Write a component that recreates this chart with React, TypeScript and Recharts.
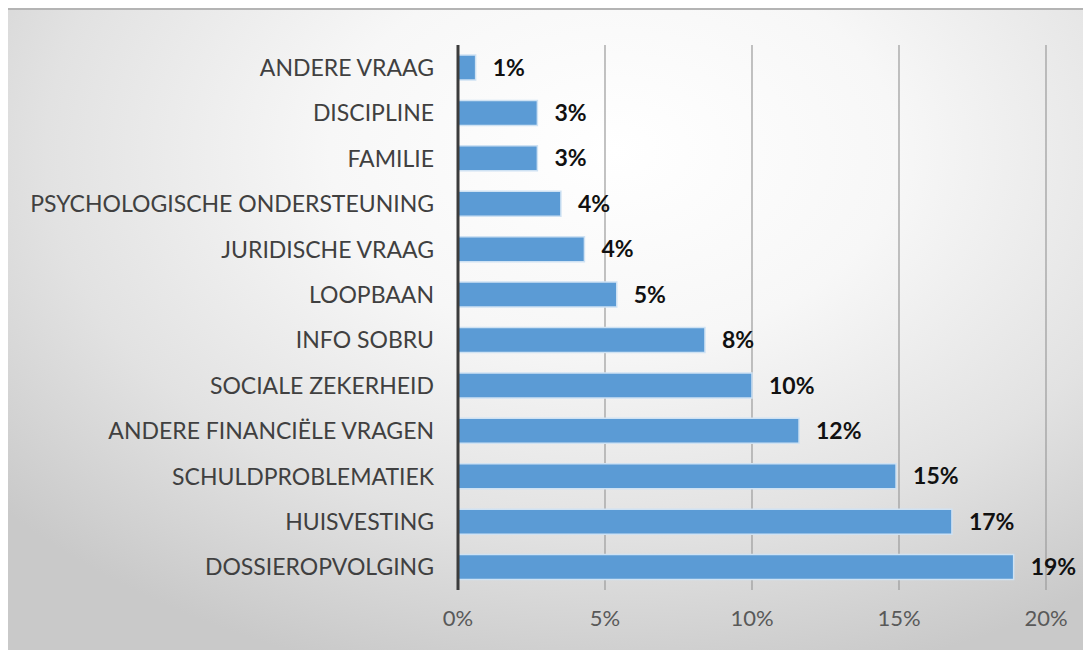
import * as React from 'react';
import { BarChart, Bar, XAxis, YAxis, CartesianGrid, LabelList } from 'recharts';

const categories = [
  'ANDERE VRAAG',
  'DISCIPLINE',
  'FAMILIE',
  'PSYCHOLOGISCHE ONDERSTEUNING',
  'JURIDISCHE VRAAG',
  'LOOPBAAN',
  'INFO SOBRU',
  'SOCIALE ZEKERHEID',
  'ANDERE FINANCIËLE VRAGEN',
  'SCHULDPROBLEMATIEK',
  'HUISVESTING',
  'DOSSIEROPVOLGING',
];

// percentages
const shares = [0.6, 2.7, 2.7, 3.5, 4.3, 5.4, 8.4, 10.0, 11.6, 14.9, 16.8, 18.9];

const xTicks = [0, 5, 10, 15, 20];

const FONT = 'Lato, "Open Sans", sans-serif';

export default function App() {
  const data = categories.map((name, i) => ({ name, value: shares[i] }));

  return (
    <div
      style={{
        position: 'relative',
        width: 1083,
        height: 641,
        borderTop: '2px solid #b4b4b4',
        background:
          'radial-gradient(ellipse 75% 85% at 56% 22%, #ffffff 0%, #f7f7f7 35%, #e2e2e2 70%, #c9c9c9 100%)',
        fontFamily: FONT,
      }}
    >
      <BarChart
        layout="vertical"
        width={1083}
        height={641}
        data={data}
        margin={{ top: 35, right: 45, bottom: 16, left: 0 }}
        barCategoryGap="22%"
      >
        <CartesianGrid vertical horizontal={false} stroke="#9a9a9a" strokeWidth={1.2} />
        <XAxis
          type="number"
          domain={[0, 20]}
          ticks={xTicks}
          tickFormatter={(v: number) => `${v}%`}
          axisLine={false}
          tickLine={false}
          tickSize={0}
          tickMargin={20}
          height={45}
          tick={{ fill: '#595959', fontSize: 22, fontFamily: FONT }}
        />
        <YAxis
          type="category"
          dataKey="name"
          width={450}
          axisLine={{ stroke: '#3c3c3c', strokeWidth: 3 }}
          tickLine={false}
          tickSize={0}
          tickMargin={24}
          interval={0}
          tick={{ fill: '#404040', fontSize: 23, fontFamily: FONT }}
        />
        <Bar dataKey="value" fill="#5b9bd5" stroke="#cfe2f3" strokeWidth={1.5} isAnimationActive={false}>
          <LabelList
            dataKey="value"
            position="right"
            offset={17}
            formatter={(v: any) => `${Math.round(Number(v))}%`}
            style={{ fill: '#111111', fontSize: 23, fontWeight: 700, fontFamily: FONT }}
          />
        </Bar>
      </BarChart>
    </div>
  );
}
